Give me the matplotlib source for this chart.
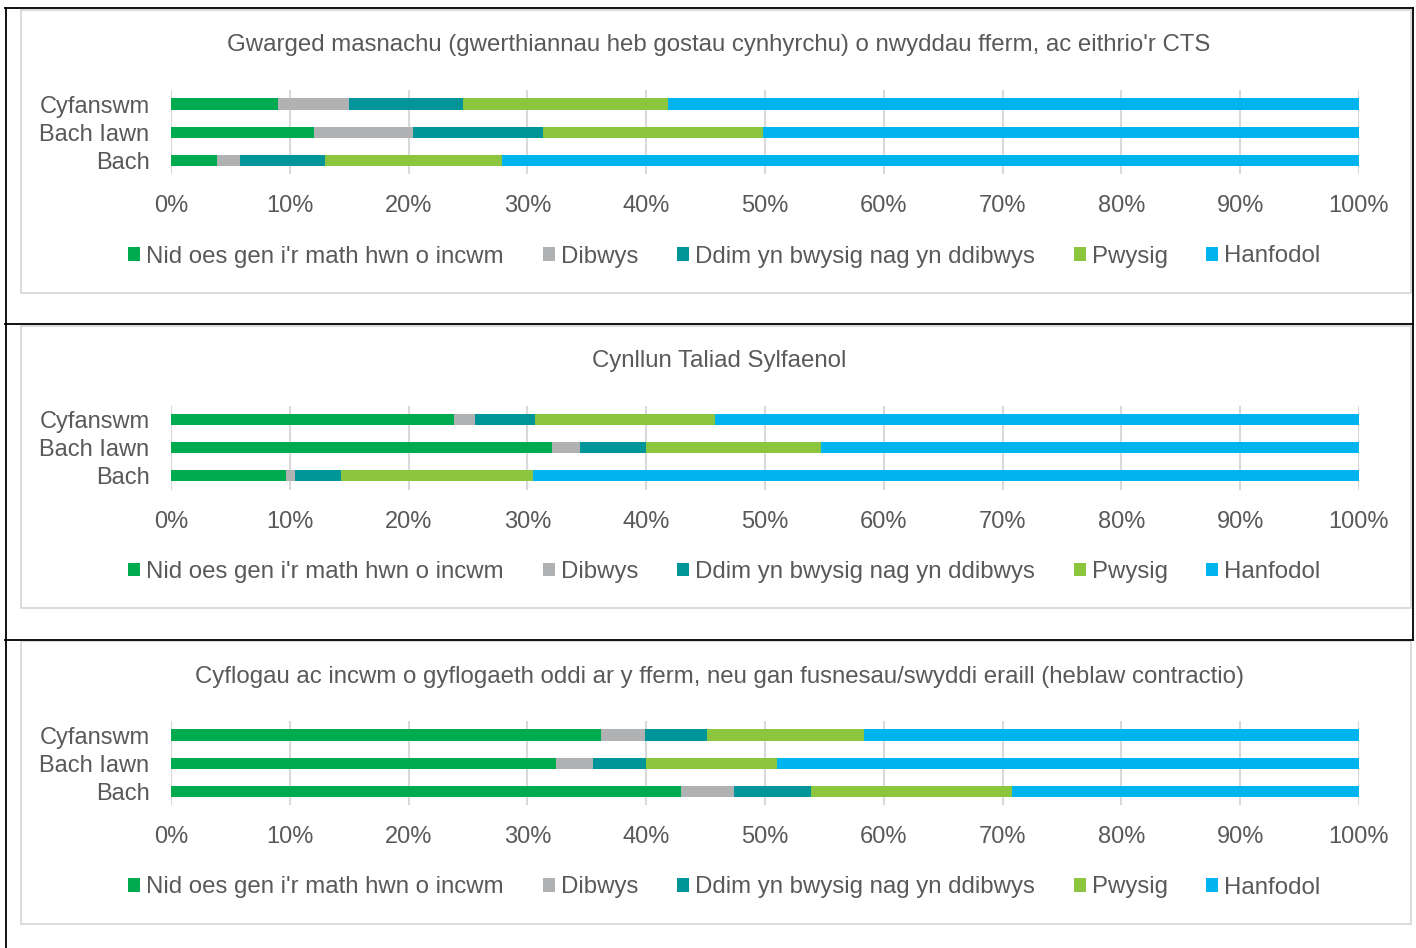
import matplotlib
matplotlib.use("Agg")
import matplotlib.pyplot as plt
from matplotlib.lines import Line2D
from matplotlib.patches import Rectangle
import numpy as np

plt.rcParams['font.family'] = ['Liberation Sans', 'DejaVu Sans']

categories = ['Cyfanswm', 'Bach Iawn', 'Bach']
series_names = ["Nid oes gen i'r math hwn o incwm", 'Dibwys',
                'Ddim yn bwysig nag yn ddibwys', 'Pwysig', 'Hanfodol']
colors = ['#00AA4F', '#B0B1B3', '#009598', '#8CC63F', '#00B4EF']
xticks = [0, 10, 20, 30, 40, 50, 60, 70, 80, 90, 100]
xtick_labels = ['0%', '10%', '20%', '30%', '40%', '50%', '60%', '70%', '80%', '90%', '100%']

titles = [
    "Gwarged masnachu (gwerthiannau heb gostau cynhyrchu) o nwyddau fferm, ac eithrio'r CTS",
    "Cynllun Taliad Sylfaenol",
    "Cyflogau ac incwm o gyflogaeth oddi ar y fferm, neu gan fusnesau/swyddi eraill (heblaw contractio)",
]

# Panel 1 values (%), order: Cyfanswm, Bach Iawn, Bach
p1_nid = [9.0, 12.0, 3.9]
p1_dibwys = [6.0, 8.4, 1.9]
p1_ddim = [9.6, 10.9, 7.2]
p1_pwysig = [17.2, 18.5, 14.9]
p1_hanfodol = [58.2, 50.2, 72.1]

# Panel 2
p2_nid = [23.8, 32.1, 9.7]
p2_dibwys = [1.8, 2.3, 0.7]
p2_ddim = [5.0, 5.6, 3.9]
p2_pwysig = [15.2, 14.7, 16.2]
p2_hanfodol = [54.2, 45.3, 69.5]

# Panel 3
p3_nid = [36.2, 32.4, 42.9]
p3_dibwys = [3.7, 3.1, 4.5]
p3_ddim = [5.2, 4.5, 6.5]
p3_pwysig = [13.2, 11.0, 16.9]
p3_hanfodol = [41.7, 49.0, 29.2]

panels = [
    [p1_nid, p1_dibwys, p1_ddim, p1_pwysig, p1_hanfodol],
    [p2_nid, p2_dibwys, p2_ddim, p2_pwysig, p2_hanfodol],
    [p3_nid, p3_dibwys, p3_ddim, p3_pwysig, p3_hanfodol],
]

W, H = 1416, 948
fig = plt.figure(figsize=(W / 100, H / 100), dpi=100)
TXT = '#595959'
GRID = '#D9D9D9'

def fx(px):
    return px / W

def fy(py):
    return 1 - py / H

offsets = [0, 315.5, 631]

for i, (vals, title, off) in enumerate(zip(panels, titles, offsets)):
    # grey chart-area box
    fig.add_artist(Rectangle((fx(20.5), fy(292.5 + off)), fx(1411) - fx(20.5),
                             (292.5 - 10) / H, transform=fig.transFigure,
                             fill=False, edgecolor=GRID, linewidth=1.3, zorder=0))
    top_px = 90 + off
    bot_px = 174.3 + off
    ax = fig.add_axes([fx(171), fy(bot_px), fx(1359) - fx(171), (bot_px - top_px) / H])
    y = np.arange(len(categories))
    left = np.zeros(len(categories))
    handles = []
    for name, v, c in zip(series_names, vals, colors):
        b = ax.barh(y, v, left=left, height=0.4, color=c, label=name, zorder=3)
        handles.append(b)
        left = left + np.array(v)
    ax.set_xlim(0, 100)
    ax.set_ylim(-0.5, 2.5)
    ax.invert_yaxis()
    ax.set_yticks(y)
    ax.set_yticklabels(categories, fontsize=17, color=TXT)
    ax.set_xticks(xticks)
    ax.set_xticklabels(xtick_labels, fontsize=17, color=TXT)
    ax.tick_params(axis='both', length=0)
    ax.tick_params(axis='y', pad=15.5)
    ax.tick_params(axis='x', pad=15)
    ax.grid(axis='x', color=GRID, linewidth=1.5, zorder=0)
    ax.set_axisbelow(True)
    for s in ax.spines.values():
        s.set_visible(False)
    ax.patch.set_alpha(0)
    fig.text(fx(719), fy(45.5 + off), title, ha='center', va='center',
             fontsize=17.25, color=TXT)
    fig.legend(handles=handles, labels=series_names, loc='center',
               bbox_to_anchor=(fx(724.5), fy(256.5 + off)), ncol=5, frameon=False,
               fontsize=17.25, labelcolor=TXT, handlelength=0.5, handleheight=0.5,
               handletextpad=0.25, columnspacing=1.62, borderpad=0, borderaxespad=0)

# black table borders
lw = 1.3
for yy in [8, 323.5, 640]:
    fig.add_artist(Line2D([fx(5), fx(1413)], [fy(yy), fy(yy)], color='black',
                          linewidth=lw, transform=fig.transFigure))
fig.add_artist(Line2D([fx(6), fx(6)], [fy(8), fy(948)], color='black',
                      linewidth=lw, transform=fig.transFigure))
fig.add_artist(Line2D([fx(1413), fx(1413)], [fy(8), fy(640)], color='black',
                      linewidth=lw, transform=fig.transFigure))

fig.savefig('out.png', dpi=100)
